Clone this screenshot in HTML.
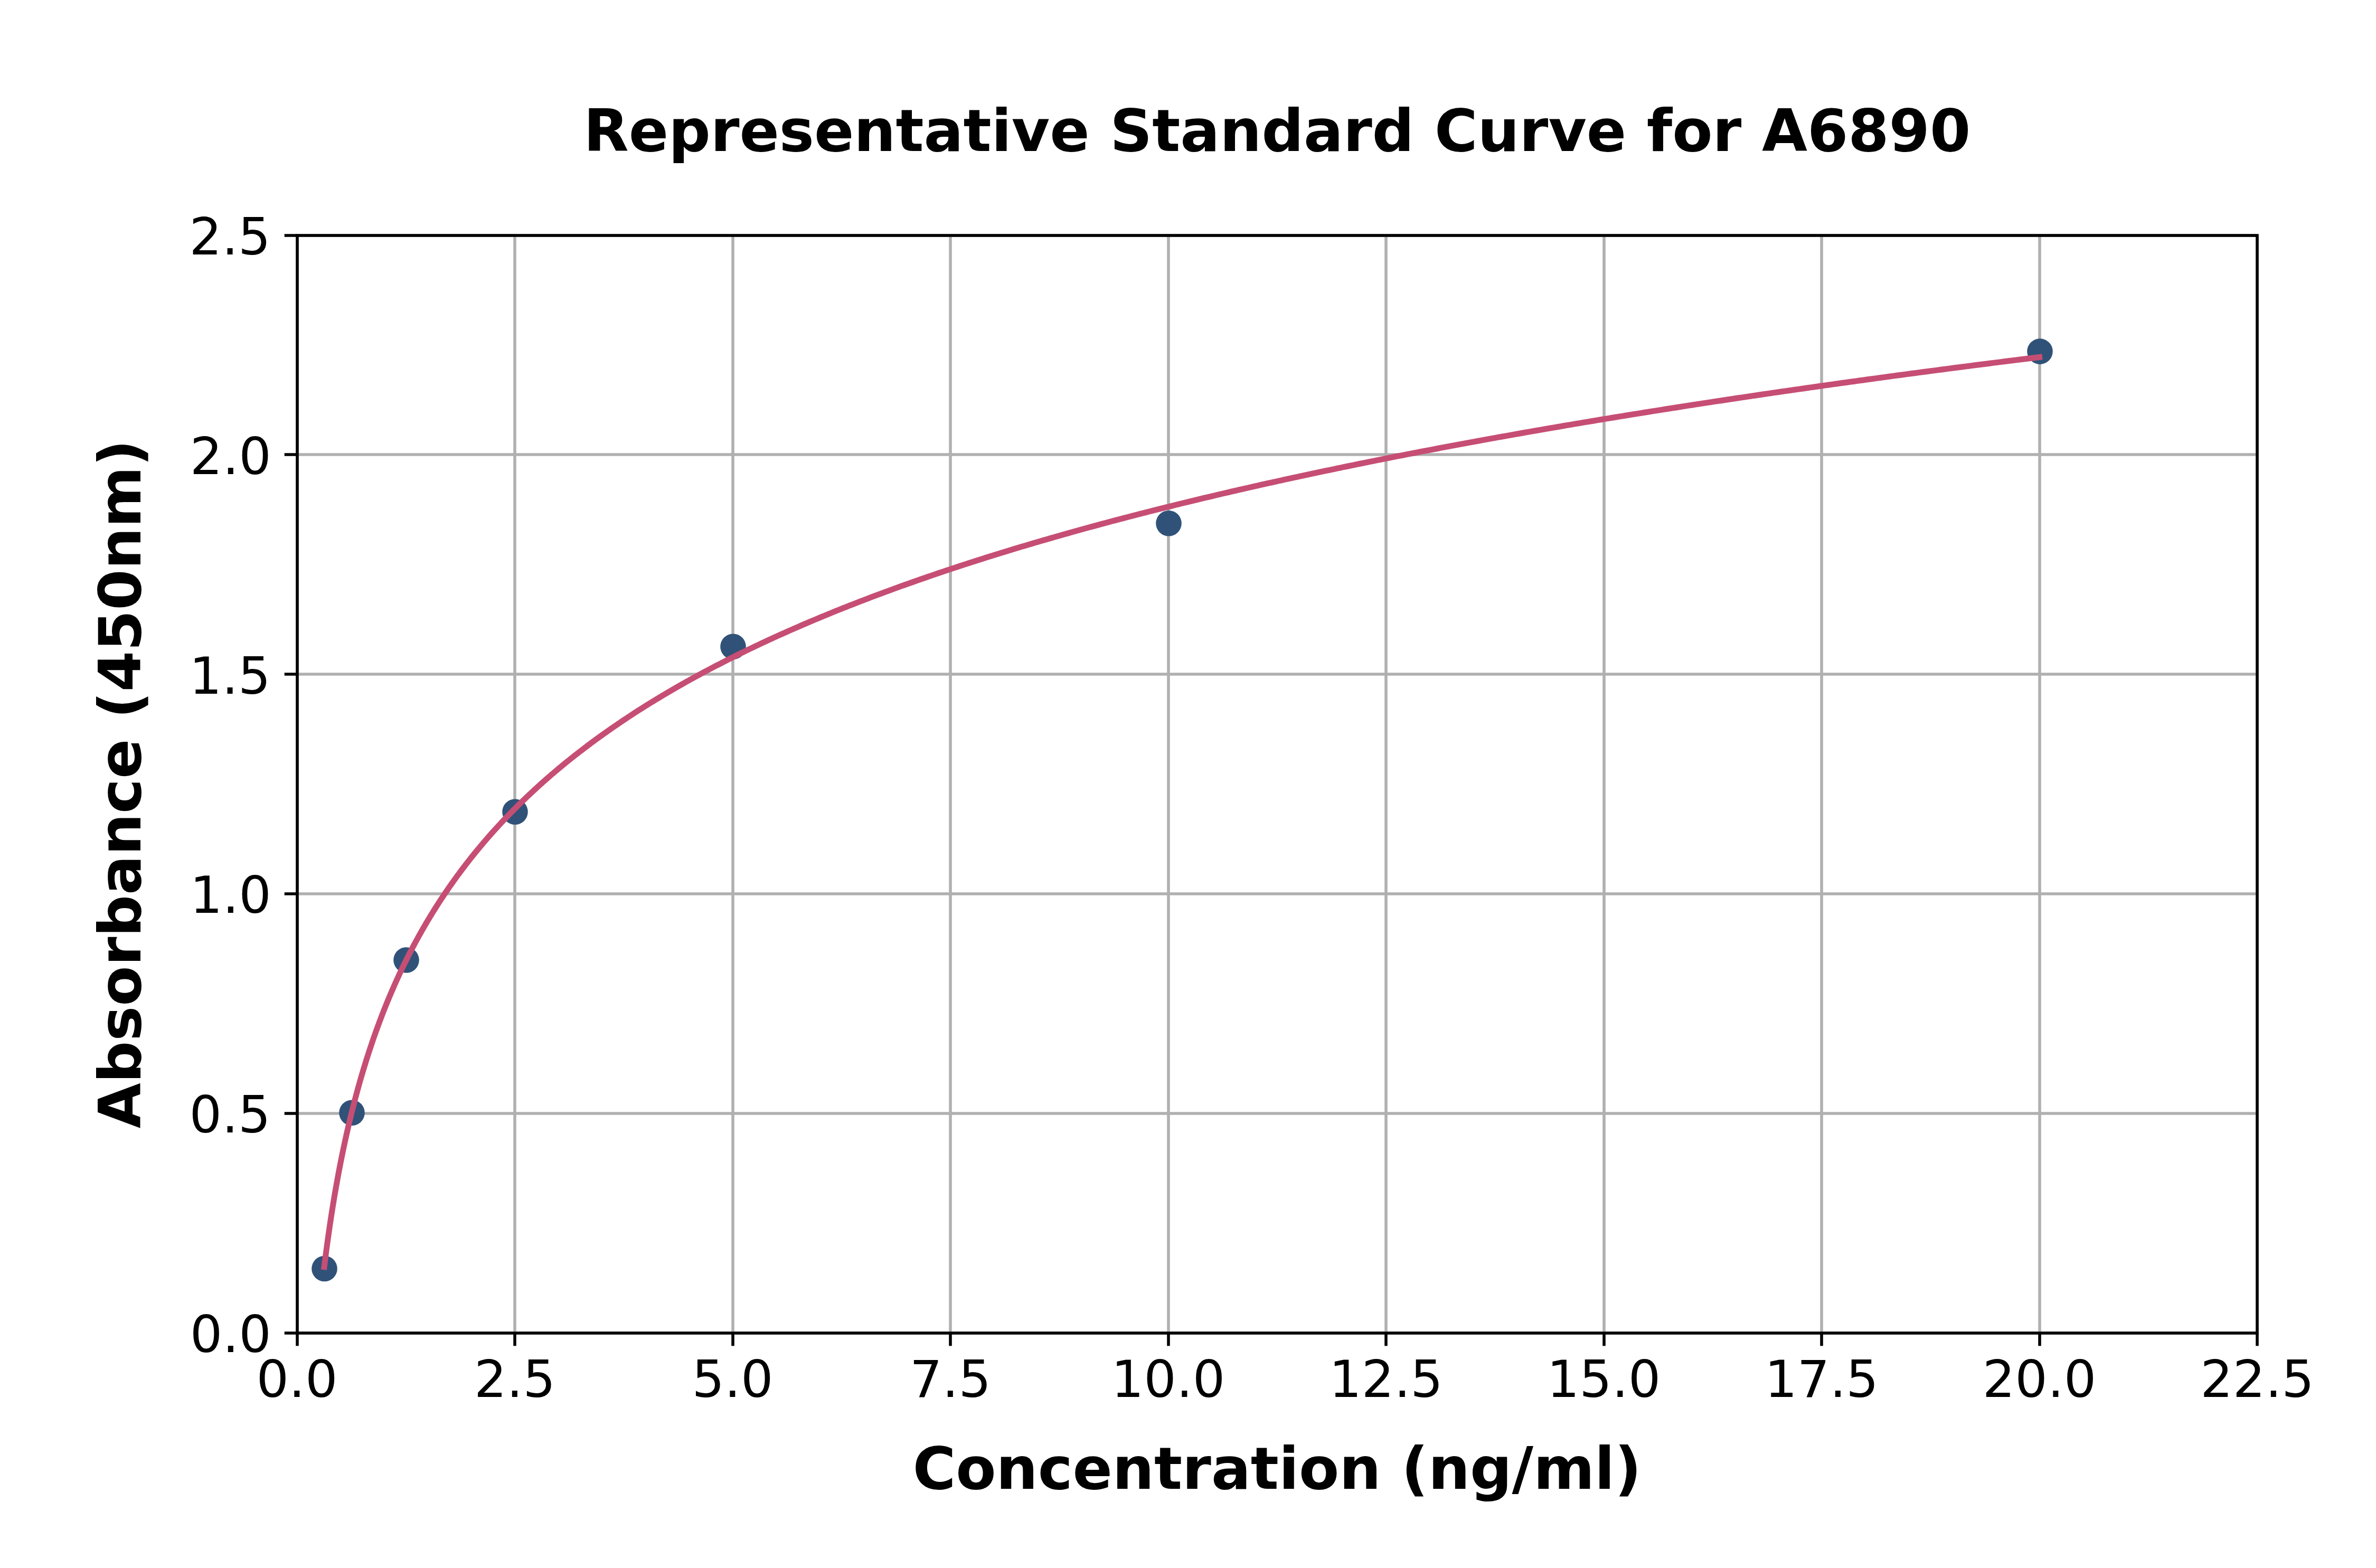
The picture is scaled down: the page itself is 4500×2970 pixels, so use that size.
<!DOCTYPE html>
<html lang="en"><head><meta charset="utf-8"><title>Representative Standard Curve for A6890</title>
<style>html,body{margin:0;padding:0;background:#fff;}body{width:4500px;height:2970px;overflow:hidden;}svg{display:block;}text{font-family:"DejaVu Sans","Liberation Sans",sans-serif;fill:#000;}</style></head><body>
<svg width="4500" height="2970" viewBox="0 0 4500 2970">
<rect x="0" y="0" width="4500" height="2970" fill="#ffffff"/>
<g stroke="#b0b0b0" stroke-width="5.556" fill="none">
<line x1="563.00" y1="445.50" x2="563.00" y2="2524.50"/>
<line x1="975.00" y1="445.50" x2="975.00" y2="2524.50"/>
<line x1="1388.00" y1="445.50" x2="1388.00" y2="2524.50"/>
<line x1="1800.00" y1="445.50" x2="1800.00" y2="2524.50"/>
<line x1="2213.00" y1="445.50" x2="2213.00" y2="2524.50"/>
<line x1="2625.00" y1="445.50" x2="2625.00" y2="2524.50"/>
<line x1="3038.00" y1="445.50" x2="3038.00" y2="2524.50"/>
<line x1="3450.00" y1="445.50" x2="3450.00" y2="2524.50"/>
<line x1="3863.00" y1="445.50" x2="3863.00" y2="2524.50"/>
<line x1="4275.00" y1="445.50" x2="4275.00" y2="2524.50"/>
<line x1="562.50" y1="2525.00" x2="4275.00" y2="2525.00"/>
<line x1="562.50" y1="2109.00" x2="4275.00" y2="2109.00"/>
<line x1="562.50" y1="1693.00" x2="4275.00" y2="1693.00"/>
<line x1="562.50" y1="1277.00" x2="4275.00" y2="1277.00"/>
<line x1="562.50" y1="861.00" x2="4275.00" y2="861.00"/>
<line x1="562.50" y1="446.00" x2="4275.00" y2="446.00"/>
</g>
<g stroke="#000" stroke-width="5.556" fill="none">
<line x1="563.00" y1="2525.00" x2="563.00" y2="2549.31"/>
<line x1="975.00" y1="2525.00" x2="975.00" y2="2549.31"/>
<line x1="1388.00" y1="2525.00" x2="1388.00" y2="2549.31"/>
<line x1="1800.00" y1="2525.00" x2="1800.00" y2="2549.31"/>
<line x1="2213.00" y1="2525.00" x2="2213.00" y2="2549.31"/>
<line x1="2625.00" y1="2525.00" x2="2625.00" y2="2549.31"/>
<line x1="3038.00" y1="2525.00" x2="3038.00" y2="2549.31"/>
<line x1="3450.00" y1="2525.00" x2="3450.00" y2="2549.31"/>
<line x1="3863.00" y1="2525.00" x2="3863.00" y2="2549.31"/>
<line x1="4275.00" y1="2525.00" x2="4275.00" y2="2549.31"/>
<line x1="538.69" y1="2525.00" x2="563.00" y2="2525.00"/>
<line x1="538.69" y1="2109.00" x2="563.00" y2="2109.00"/>
<line x1="538.69" y1="1693.00" x2="563.00" y2="1693.00"/>
<line x1="538.69" y1="1277.00" x2="563.00" y2="1277.00"/>
<line x1="538.69" y1="861.00" x2="563.00" y2="861.00"/>
<line x1="538.69" y1="446.00" x2="563.00" y2="446.00"/>
</g>
<g fill="#305278" stroke="none">
<circle cx="614.50" cy="2403.00" r="24.30"/>
<circle cx="666.50" cy="2107.70" r="24.30"/>
<circle cx="769.50" cy="1818.50" r="24.30"/>
<circle cx="975.50" cy="1537.80" r="24.30"/>
<circle cx="1388.50" cy="1224.80" r="24.30"/>
<circle cx="2213.50" cy="991.20" r="24.30"/>
<circle cx="3863.50" cy="665.60" r="24.30"/>
</g>
<path d="M614.06 2399.74 L614.78 2393.89 L615.52 2388.04 L616.26 2382.20 L617.01 2376.35 L617.78 2370.50 L618.55 2364.66 L619.34 2358.81 L620.13 2352.97 L620.94 2347.13 L621.76 2341.28 L622.20 2338.13 L622.59 2335.44 L623.43 2329.60 L624.28 2323.76 L625.15 2317.92 L626.03 2312.08 L626.91 2306.24 L627.82 2300.40 L628.73 2294.56 L629.66 2288.73 L630.35 2284.46 L630.60 2282.89 L631.55 2277.05 L632.52 2271.22 L633.50 2265.38 L634.50 2259.55 L635.50 2253.71 L636.53 2247.88 L637.56 2242.05 L638.49 2236.92 L638.62 2236.21 L639.68 2230.38 L640.76 2224.55 L641.86 2218.72 L642.97 2212.89 L644.10 2207.06 L645.24 2201.23 L646.40 2195.40 L646.63 2194.26 L647.57 2189.58 L648.77 2183.75 L649.97 2177.92 L651.20 2172.10 L652.44 2166.27 L653.70 2160.45 L654.77 2155.57 L654.98 2154.62 L656.27 2148.80 L657.59 2142.97 L658.92 2137.15 L660.27 2131.33 L661.64 2125.51 L662.91 2120.18 L663.03 2119.69 L664.44 2113.87 L665.86 2108.05 L667.31 2102.23 L668.78 2096.41 L670.27 2090.59 L671.05 2087.56 L671.78 2084.78 L673.31 2078.96 L674.86 2073.14 L676.43 2067.33 L678.03 2061.51 L679.19 2057.32 L679.65 2055.70 L681.29 2049.88 L682.95 2044.07 L684.64 2038.26 L686.35 2032.45 L687.34 2029.14 L688.09 2026.63 L689.84 2020.82 L691.63 2015.01 L693.44 2009.20 L695.27 2003.39 L695.48 2002.75 L697.13 1997.59 L699.02 1991.78 L700.93 1985.97 L702.87 1980.16 L703.62 1977.94 L704.83 1974.36 L706.83 1968.55 L708.85 1962.75 L710.90 1956.94 L711.76 1954.53 L712.98 1951.14 L715.08 1945.33 L717.22 1939.53 L719.39 1933.73 L719.90 1932.37 L721.59 1927.93 L723.81 1922.13 L726.07 1916.33 L728.04 1911.34 L728.37 1910.53 L730.69 1904.73 L733.04 1898.93 L735.43 1893.13 L736.18 1891.32 L737.86 1887.33 L740.31 1881.54 L742.80 1875.74 L744.33 1872.23 L745.33 1869.95 L747.89 1864.15 L750.48 1858.36 L752.47 1853.99 L753.12 1852.56 L755.79 1846.77 L758.49 1840.98 L760.61 1836.51 L761.24 1835.18 L764.02 1829.39 L766.85 1823.60 L768.75 1819.74 L769.71 1817.81 L772.61 1812.02 L775.55 1806.23 L776.89 1803.63 L778.54 1800.44 L781.56 1794.65 L784.63 1788.87 L785.03 1788.12 L787.74 1783.08 L790.90 1777.29 L793.17 1773.17 L794.10 1771.51 L797.34 1765.72 L800.63 1759.94 L801.32 1758.74 L803.97 1754.15 L807.35 1748.37 L809.46 1744.81 L810.78 1742.59 L814.25 1736.81 L817.60 1731.32 L817.78 1731.03 L821.36 1725.24 L824.98 1719.46 L825.74 1718.27 L828.66 1713.68 L832.39 1707.91 L833.88 1705.61 L836.17 1702.13 L840.00 1696.35 L842.02 1693.33 L843.89 1690.57 L847.83 1684.79 L850.16 1681.41 L851.82 1679.02 L855.88 1673.24 L858.31 1669.82 L859.99 1667.47 L864.15 1661.69 L866.45 1658.55 L868.38 1655.92 L872.66 1650.15 L874.59 1647.58 L877.01 1644.37 L881.41 1638.60 L882.73 1636.89 L885.88 1632.83 L890.41 1627.06 L890.87 1626.47 L895.00 1621.29 L899.01 1616.31 L899.66 1615.52 L904.38 1609.75 L907.15 1606.40 L909.17 1603.98 L914.02 1598.21 L915.30 1596.72 L918.95 1592.45 L923.44 1587.26 L923.94 1586.68 L929.00 1580.91 L931.58 1578.01 L934.14 1575.15 L939.34 1569.38 L939.72 1568.97 L944.62 1563.62 L947.86 1560.12 L949.97 1557.86 L955.40 1552.09 L956.00 1551.46 L960.90 1546.33 L964.14 1542.97 L966.48 1540.57 L972.14 1534.81 L972.29 1534.66 L977.88 1529.04 L980.43 1526.50 L983.70 1523.27 L988.57 1518.50 L989.60 1517.50 L995.58 1511.74 L996.71 1510.65 L1001.64 1505.97 L1004.85 1502.95 L1007.80 1500.20 L1012.99 1495.39 L1014.03 1494.43 L1020.36 1488.67 L1021.13 1487.96 L1026.77 1482.90 L1029.28 1480.67 L1033.27 1477.14 L1037.42 1473.50 L1039.87 1471.37 L1045.56 1466.46 L1046.55 1465.61 L1053.33 1459.85 L1053.70 1459.54 L1060.21 1454.08 L1061.84 1452.73 L1067.18 1448.32 L1069.98 1446.03 L1074.25 1442.56 L1078.12 1439.43 L1081.41 1436.80 L1086.27 1432.95 L1088.68 1431.04 L1094.41 1426.56 L1096.05 1425.28 L1102.55 1420.27 L1103.53 1419.52 L1110.69 1414.07 L1111.10 1413.76 L1118.79 1408.00 L1118.83 1407.97 L1126.58 1402.25 L1126.97 1401.96 L1134.48 1396.49 L1135.12 1396.03 L1142.49 1390.73 L1143.26 1390.19 L1150.62 1384.98 L1151.40 1384.43 L1158.85 1379.22 L1159.54 1378.75 L1167.21 1373.47 L1167.68 1373.14 L1175.68 1367.71 L1175.82 1367.62 L1183.96 1362.16 L1184.26 1361.96 L1192.11 1356.78 L1192.97 1356.21 L1200.25 1351.46 L1201.80 1350.46 L1208.39 1346.22 L1210.76 1344.70 L1216.53 1341.04 L1219.84 1338.95 L1224.67 1335.92 L1229.04 1333.20 L1232.81 1330.87 L1238.38 1327.45 L1240.95 1325.88 L1247.85 1321.70 L1249.10 1320.95 L1257.24 1316.08 L1257.45 1315.96 L1265.38 1311.27 L1267.18 1310.21 L1273.52 1306.51 L1277.05 1304.46 L1281.66 1301.80 L1287.06 1298.71 L1289.80 1297.15 L1297.21 1292.97 L1297.94 1292.55 L1306.09 1288.01 L1307.50 1287.22 L1314.23 1283.51 L1317.93 1281.48 L1322.37 1279.06 L1328.51 1275.73 L1330.51 1274.66 L1338.65 1270.31 L1339.24 1269.99 L1346.79 1266.00 L1350.12 1264.25 L1354.93 1261.73 L1361.15 1258.51 L1363.08 1257.51 L1371.22 1253.34 L1372.34 1252.76 L1379.36 1249.20 L1383.68 1247.02 L1387.50 1245.11 L1395.19 1241.28 L1395.64 1241.06 L1403.78 1237.04 L1406.85 1235.54 L1411.92 1233.07 L1418.68 1229.80 L1420.07 1229.13 L1428.21 1225.24 L1430.67 1224.07 L1436.35 1221.37 L1442.83 1218.33 L1444.49 1217.55 L1452.63 1213.76 L1455.16 1212.59 L1460.77 1210.00 L1467.66 1206.85 L1468.91 1206.28 L1477.06 1202.60 L1480.34 1201.12 L1485.20 1198.94 L1493.19 1195.38 L1493.34 1195.32 L1501.48 1191.73 L1506.23 1189.65 L1509.62 1188.17 L1517.76 1184.64 L1519.45 1183.91 L1525.90 1181.14 L1532.85 1178.18 L1534.05 1177.67 L1542.19 1174.23 L1546.44 1172.45 L1550.33 1170.82 L1558.47 1167.44 L1560.22 1166.72 L1566.61 1164.09 L1574.20 1160.99 L1574.75 1160.76 L1582.89 1157.46 L1588.37 1155.26 L1591.04 1154.19 L1599.18 1150.94 L1602.74 1149.53 L1607.32 1147.72 L1615.46 1144.52 L1617.31 1143.80 L1623.60 1141.35 L1631.74 1138.20 L1632.08 1138.07 L1639.88 1135.07 L1647.06 1132.34 L1648.03 1131.97 L1656.17 1128.90 L1662.25 1126.61 L1664.31 1125.84 L1672.45 1122.81 L1677.66 1120.89 L1680.59 1119.81 L1688.73 1116.82 L1693.28 1115.16 L1696.88 1113.85 L1705.02 1110.91 L1709.12 1109.44 L1713.16 1107.99 L1721.30 1105.09 L1725.18 1103.71 L1729.44 1102.21 L1737.58 1099.34 L1741.46 1097.99 L1745.72 1096.50 L1753.87 1093.68 L1757.97 1092.27 L1762.01 1090.88 L1770.15 1088.10 L1774.72 1086.54 L1778.29 1085.33 L1786.43 1082.59 L1791.70 1080.82 L1794.57 1079.86 L1802.71 1077.15 L1808.91 1075.10 L1810.86 1074.46 L1819.00 1071.79 L1826.37 1069.38 L1827.14 1069.13 L1835.28 1066.49 L1843.42 1063.87 L1844.07 1063.66 L1851.56 1061.27 L1859.70 1058.68 L1862.03 1057.94 L1867.85 1056.11 L1875.99 1053.55 L1880.23 1052.22 L1884.13 1051.01 L1892.27 1048.49 L1898.68 1046.51 L1900.41 1045.98 L1908.55 1043.48 L1916.69 1041.01 L1917.40 1040.79 L1924.84 1038.54 L1932.98 1036.09 L1936.38 1035.08 L1941.12 1033.66 L1949.26 1031.24 L1955.62 1029.36 L1957.40 1028.84 L1965.54 1026.44 L1973.68 1024.07 L1975.13 1023.65 L1981.83 1021.70 L1989.97 1019.35 L1994.92 1017.93 L1998.11 1017.02 L2006.25 1014.70 L2014.39 1012.39 L2014.98 1012.22 L2022.53 1010.09 L2030.67 1007.81 L2035.33 1006.51 L2038.82 1005.54 L2046.96 1003.28 L2055.10 1001.03 L2055.95 1000.80 L2063.24 998.80 L2071.38 996.58 L2076.87 995.09 L2079.52 994.37 L2087.66 992.17 L2095.81 989.98 L2098.08 989.38 L2103.95 987.81 L2112.09 985.65 L2119.59 983.67 L2120.23 983.50 L2128.37 981.36 L2136.51 979.23 L2141.40 977.96 L2144.65 977.11 L2152.80 975.01 L2160.94 972.91 L2163.52 972.25 L2169.08 970.83 L2177.22 968.75 L2185.36 966.69 L2185.94 966.54 L2193.50 964.64 L2201.64 962.59 L2208.68 960.84 L2209.79 960.56 L2217.93 958.54 L2226.07 956.53 L2231.74 955.13 L2234.21 954.52 L2242.35 952.53 L2250.49 950.55 L2255.12 949.43 L2258.63 948.57 L2266.78 946.61 L2274.92 944.66 L2278.82 943.72 L2283.06 942.71 L2291.20 940.78 L2299.34 938.85 L2302.86 938.02 L2307.48 936.93 L2315.62 935.02 L2323.77 933.12 L2327.24 932.32 L2331.91 931.23 L2340.05 929.35 L2348.19 927.48 L2351.96 926.61 L2356.33 925.61 L2364.47 923.76 L2372.62 921.91 L2377.02 920.91 L2380.76 920.07 L2388.90 918.24 L2397.04 916.42 L2402.44 915.21 L2405.18 914.60 L2413.32 912.79 L2421.46 911.00 L2428.21 909.51 L2429.61 909.21 L2437.75 907.42 L2445.89 905.65 L2454.03 903.88 L2454.34 903.81 L2462.17 902.12 L2470.31 900.37 L2478.45 898.62 L2480.84 898.11 L2486.60 896.89 L2494.74 895.16 L2502.88 893.44 L2507.71 892.42 L2511.02 891.72 L2519.16 890.01 L2527.30 888.31 L2534.95 886.72 L2535.44 886.62 L2543.59 884.93 L2551.73 883.25 L2559.87 881.58 L2562.58 881.02 L2568.01 879.91 L2576.15 878.26 L2584.29 876.60 L2590.59 875.33 L2592.43 874.96 L2600.58 873.32 L2608.72 871.69 L2616.86 870.06 L2619.00 869.63 L2625.00 868.44 L2633.14 866.83 L2641.28 865.22 L2647.81 863.94 L2649.42 863.62 L2657.57 862.03 L2665.71 860.44 L2673.85 858.86 L2677.01 858.25 L2681.99 857.28 L2690.13 855.72 L2698.27 854.15 L2706.41 852.60 L2706.63 852.55 L2714.56 851.04 L2722.70 849.50 L2730.84 847.96 L2736.66 846.86 L2738.98 846.43 L2747.12 844.90 L2755.26 843.38 L2763.40 841.86 L2767.11 841.17 L2771.55 840.35 L2779.69 838.85 L2787.83 837.35 L2795.97 835.85 L2797.99 835.48 L2804.11 834.36 L2812.25 832.88 L2820.39 831.40 L2828.54 829.93 L2829.30 829.79 L2836.68 828.46 L2844.82 827.00 L2852.96 825.55 L2861.05 824.10 L2861.10 824.09 L2869.24 822.65 L2877.38 821.21 L2885.53 819.77 L2893.25 818.42 L2893.67 818.34 L2901.81 816.92 L2909.95 815.50 L2918.09 814.08 L2925.89 812.73 L2926.23 812.67 L2934.38 811.26 L2942.52 809.86 L2950.66 808.47 L2958.80 807.07 L2959.00 807.04 L2966.94 805.69 L2975.08 804.31 L2983.22 802.93 L2991.37 801.56 L2992.56 801.36 L2999.51 800.19 L3007.65 798.83 L3015.79 797.47 L3023.93 796.11 L3026.60 795.67 L3032.07 794.76 L3040.21 793.42 L3048.36 792.08 L3056.50 790.74 L3061.11 789.99 L3064.64 789.41 L3072.78 788.08 L3080.92 786.76 L3089.06 785.44 L3096.11 784.30 L3097.20 784.13 L3105.35 782.81 L3113.49 781.51 L3121.63 780.21 L3129.77 778.91 L3131.60 778.62 L3137.91 777.62 L3146.05 776.33 L3154.19 775.04 L3162.34 773.76 L3167.58 772.94 L3170.48 772.48 L3178.62 771.21 L3186.76 769.94 L3194.90 768.67 L3203.04 767.41 L3204.07 767.25 L3211.18 766.16 L3219.33 764.90 L3227.47 763.65 L3235.61 762.41 L3241.07 761.57 L3243.75 761.16 L3251.89 759.93 L3260.03 758.69 L3268.17 757.46 L3276.32 756.23 L3278.59 755.89 L3284.46 755.01 L3292.60 753.79 L3300.74 752.58 L3308.88 751.36 L3316.63 750.21 L3317.02 750.15 L3325.16 748.95 L3333.31 747.75 L3341.45 746.55 L3349.59 745.36 L3355.21 744.53 L3357.73 744.17 L3365.87 742.98 L3374.01 741.79 L3382.15 740.61 L3390.30 739.44 L3394.32 738.86 L3398.44 738.26 L3406.58 737.09 L3414.72 735.93 L3422.86 734.76 L3431.00 733.60 L3433.99 733.18 L3439.14 732.45 L3447.29 731.29 L3455.43 730.14 L3463.57 729.00 L3471.71 727.85 L3474.20 727.50 L3479.85 726.71 L3487.99 725.57 L3496.13 724.44 L3504.28 723.31 L3512.42 722.18 L3514.99 721.83 L3520.56 721.06 L3528.70 719.93 L3536.84 718.82 L3544.98 717.70 L3553.12 716.59 L3556.34 716.15 L3561.27 715.48 L3569.41 714.37 L3577.55 713.27 L3585.69 712.17 L3593.83 711.07 L3598.27 710.48 L3601.97 709.98 L3610.12 708.89 L3618.26 707.80 L3626.40 706.71 L3634.54 705.63 L3640.80 704.80 L3642.68 704.55 L3650.82 703.47 L3658.96 702.40 L3667.11 701.33 L3675.25 700.26 L3683.39 699.20 L3683.91 699.13 L3691.53 698.13 L3699.67 697.07 L3707.81 696.02 L3715.95 694.96 L3724.10 693.91 L3727.63 693.46 L3732.24 692.86 L3740.38 691.82 L3748.52 690.77 L3756.66 689.73 L3764.80 688.69 L3771.96 687.78 L3772.94 687.66 L3781.09 686.63 L3789.23 685.60 L3797.37 684.57 L3805.51 683.54 L3813.65 682.52 L3816.92 682.11 L3821.79 681.50 L3829.93 680.48 L3838.08 679.47 L3846.22 678.46 L3854.36 677.45 L3862.50 676.44" fill="none" stroke="#c64e74" stroke-width="11.000" stroke-linecap="square" stroke-linejoin="round"/>
<rect x="563.00" y="446.00" width="3712.00" height="2079.00" fill="none" stroke="#000" stroke-width="5.556" stroke-linejoin="miter"/>
<g font-size="97.222" text-anchor="middle">
<text transform="translate(562.50 2645.80) scale(0.996 0.984)">0.0</text>
<text transform="translate(975.00 2645.80) scale(0.996 0.984)">2.5</text>
<text transform="translate(1387.50 2645.80) scale(0.996 0.984)">5.0</text>
<text transform="translate(1800.00 2645.80) scale(0.996 0.984)">7.5</text>
<text transform="translate(2212.50 2645.80) scale(0.996 0.984)">10.0</text>
<text transform="translate(2625.00 2645.80) scale(0.996 0.984)">12.5</text>
<text transform="translate(3037.50 2645.80) scale(0.996 0.984)">15.0</text>
<text transform="translate(3450.00 2645.80) scale(0.996 0.984)">17.5</text>
<text transform="translate(3862.50 2645.80) scale(0.996 0.984)">20.0</text>
<text transform="translate(4275.00 2645.80) scale(0.996 0.984)">22.5</text>
</g>
<g font-size="97.222" text-anchor="end">
<text transform="translate(513.79 2560.90) scale(0.996 0.984)">0.0</text>
<text transform="translate(512.59 2145.10) scale(0.996 0.984)">0.5</text>
<text transform="translate(513.79 1729.30) scale(0.996 0.984)">1.0</text>
<text transform="translate(512.59 1313.50) scale(0.996 0.984)">1.5</text>
<text transform="translate(513.79 897.70) scale(0.996 0.984)">2.0</text>
<text transform="translate(512.59 481.90) scale(0.996 0.984)">2.5</text>
</g>
<text x="2418.75" y="285.80" font-size="111.111" font-weight="bold" text-anchor="middle">Representative Standard Curve for A6890</text>
<text x="2418.75" y="2820.40" font-size="111.111" font-weight="bold" text-anchor="middle">Concentration (ng/ml)</text>
<text transform="translate(265.50 1485.00) rotate(-90)" font-size="111.111" font-weight="bold" text-anchor="middle">Absorbance (450nm)</text>
</svg></body></html>
